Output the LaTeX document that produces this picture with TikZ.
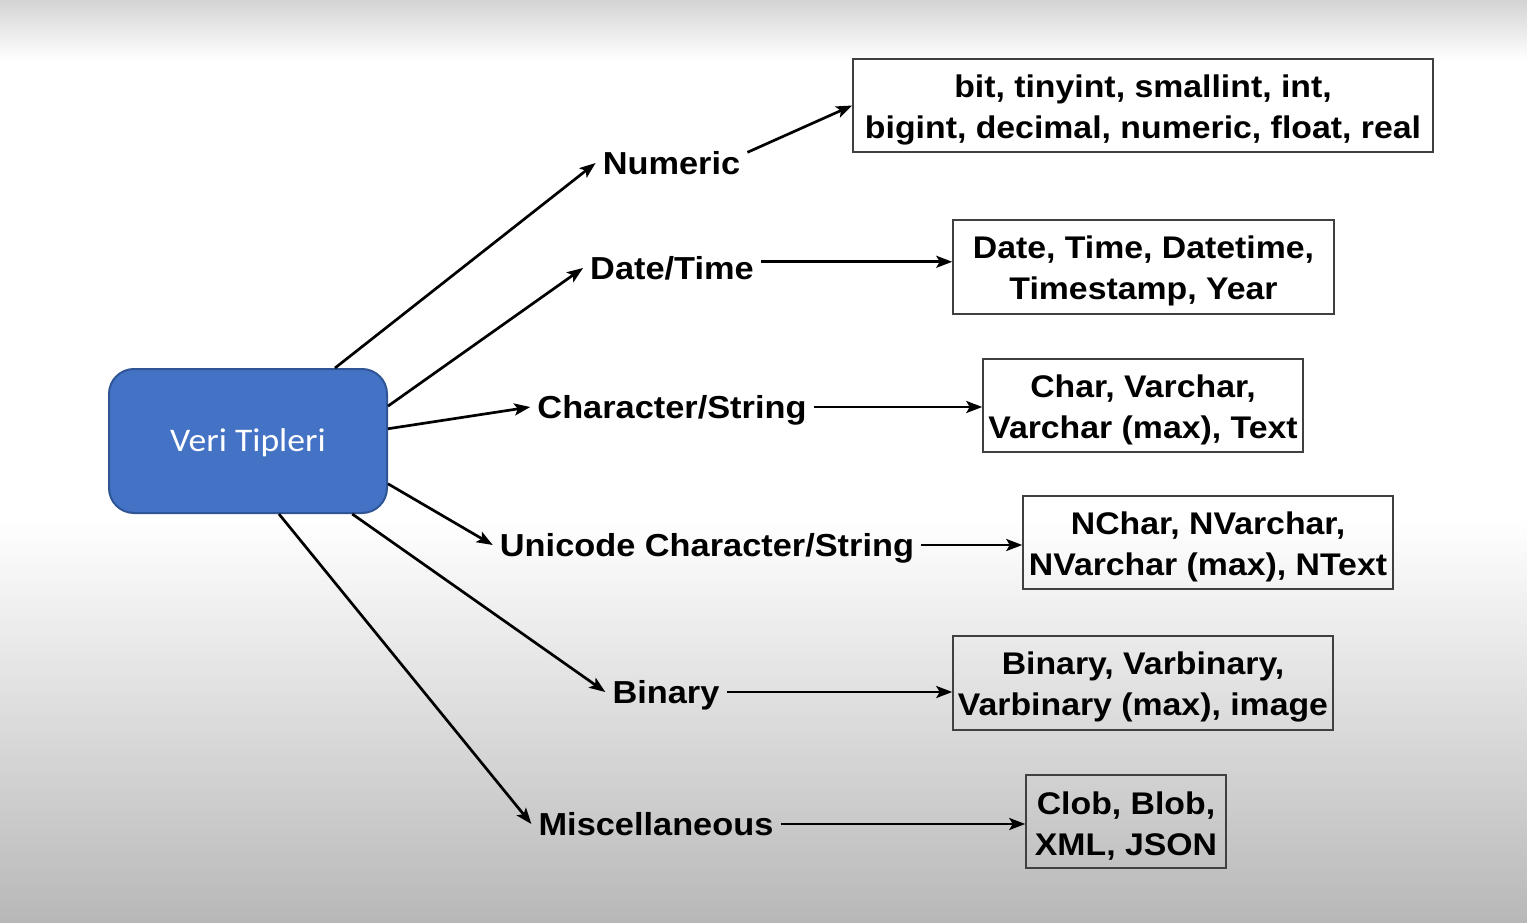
\documentclass[tikz,border=0pt]{standalone}
\usepackage{fontspec}
\setmainfont[FakeStretch=1.08]{Liberation Sans}
\newfontfamily\calibfont[FakeStretch=1.08]{Carlito}
\usetikzlibrary{arrows.meta}
\definecolor{boxblue}{HTML}{4472C4}
\definecolor{boxborder}{HTML}{2F5597}
\newcommand{\upstrut}{\rule{0pt}{31pt}}
\begin{document}
\begin{tikzpicture}[x=1pt,y=-1pt,
  lbl/.style={font=\fontsize{31.8}{41}\selectfont\bfseries, inner sep=7pt, text height=22.6pt, text depth=0pt},
  typebox/.style={draw=black!75, line width=1.5pt, align=center, font=\fontsize{31.3}{41}\selectfont\bfseries, inner sep=0pt},
  arr/.style={line width=2.7pt, -{Stealth[length=16pt,width=12pt,inset=3.5pt]}},
  rootbox/.style={draw=boxborder, line width=2pt, fill=boxblue, rounded corners=25pt, text=white, inner sep=0pt, text height=21pt, text depth=0pt, font=\calibfont\fontsize{33}{39}\selectfont}
]
\useasboundingbox (0,0) rectangle (1527,923);
\fill[white] (0,0) rectangle (1527,923);
\shade[top color=black!17, bottom color=white] (0,0) rectangle (1527,60);
\shade[top color=white, bottom color=black!28] (0,520) rectangle (1527,923);

\node[rootbox, minimum width=278pt, minimum height=144pt] (vt) at (248,441) {Veri Tipleri};

\node[lbl] (num) at (671.5,163) {Numeric};
\node[lbl] (dt) at (672,268) {Date/Time};
\node[lbl] (ch) at (672,407) {Character/String};
\node[lbl] (uc) at (707,545) {Unicode Character/String};
\node[lbl] (bi) at (666,692) {Binary};
\node[lbl] (mi) at (656,824) {Miscellaneous};

\node[typebox, minimum width=580pt, minimum height=93pt] (b1) at (1143,105.5) {\upstrut bit, tinyint, smallint, int,\\bigint, decimal, numeric, float, real};
\node[typebox, minimum width=381pt, minimum height=94pt] (b2) at (1143.5,267) {\upstrut Date, Time, Datetime,\\Timestamp, Year};
\node[typebox, minimum width=320pt, minimum height=93pt] (b3) at (1143,405.5) {\upstrut Char, Varchar,\\Varchar (max), Text};
\node[typebox, minimum width=370pt, minimum height=93pt] (b4) at (1208,542.5) {\upstrut NChar, NVarchar,\\NVarchar (max), NText};
\node[typebox, minimum width=380pt, minimum height=94pt] (b5) at (1143,683) {\upstrut Binary, Varbinary,\\Varbinary (max), image};
\node[typebox, minimum width=200pt, minimum height=93pt] (b6) at (1126,821.5) {\upstrut Clob, Blob,\\XML, JSON};

\draw[arr] (vt.40.3) -- (num.west);
\draw[arr] (vt.14.8) -- (dt.west);
\draw[arr] (vt.5.3) -- (ch.west);
\draw[arr] (vt.-17.8) -- (uc.west);
\draw[arr] (vt.-35.1) -- (bi.west);
\draw[arr] (vt.-67.7) -- (mi.west);

\draw[arr] (num.8) -- (b1.west);
\draw[arr] (dt.4) -- (dt.4 -| b2.west);
\draw[arr] (ch.east) -- (ch.east -| b3.west);
\draw[arr] (uc.east) -- (uc.east -| b4.west);
\draw[arr] (bi.east) -- (bi.east -| b5.west);
\draw[arr] (mi.east) -- (mi.east -| b6.west);
\end{tikzpicture}
\end{document}
